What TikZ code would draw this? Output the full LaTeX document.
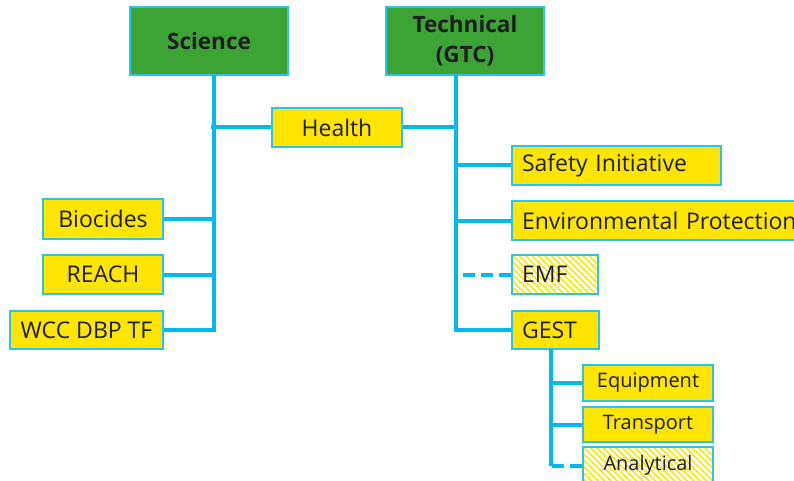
\documentclass[tikz,border=0pt]{standalone}
\usepackage{fontspec}
\setmainfont{Open Sans}
\usetikzlibrary{patterns.meta}
\definecolor{grn}{RGB}{61,163,53}
\definecolor{ylw}{RGB}{255,229,0}
\definecolor{cyn}{RGB}{0,186,235}
\definecolor{bord}{RGB}{40,195,240}
\definecolor{txt}{RGB}{30,30,30}
\begin{document}
\begin{tikzpicture}[x=1pt,y=-1pt,
  box/.style={draw=bord, line width=1.5pt, inner sep=0pt, text=txt, font=\fontsize{23}{26}\selectfont},
  gbox/.style={box, fill=grn, font=\bfseries\fontsize{22.5}{30}\selectfont, align=center},
  ybox/.style={box, fill=ylw},
  hbox/.style={box, pattern={Lines[angle=-45,distance=4.5pt,line width=1.6pt]}, pattern color=ylw},
  lbox/.style={align=left, inner xsep=10pt},
  sbox/.style={font=\fontsize{20}{24}\selectfont},
  conn/.style={draw=cyn, line width=4pt},
  dconn/.style={conn, dash pattern=on 12pt off 6pt}]
\useasboundingbox (0,0) rectangle (794,481);
% top boxes
\node[gbox, minimum width=158pt, minimum height=68pt] (sci) at (209,41) {Science};
\node[gbox, minimum width=158pt, minimum height=68pt] (tech) at (465,41) {Technical\\(GTC)};
\coordinate (strunk) at (214,75);
\coordinate (ttrunk) at (456,75);
% left branch
\node[ybox, minimum width=130pt, minimum height=39pt] (health) at (337,127.5) {Health};
\node[ybox, minimum width=120pt, minimum height=40pt] (bio) at (103,219) {Biocides};
\node[ybox, minimum width=120pt, minimum height=39pt] (reach) at (103,274.5) {REACH};
\node[ybox, minimum width=153pt, minimum height=38pt] (wcc) at (86.5,330) {WCC DBP TF};
% right branch
\node[ybox, lbox, text width=189pt, minimum height=39pt] (safety) at (616.5,165.5) {Safety Initiative};
\node[ybox, lbox, text width=290pt, minimum height=39pt] (env) at (667,220.5) {Environmental Protection};
\node[hbox, lbox, text width=66pt, minimum height=39pt] (emf) at (555,274.5) {EMF};
\node[ybox, lbox, text width=67pt, minimum height=38pt] (gest) at (555.5,330) {GEST};
% GEST children
\node[ybox, sbox, minimum width=130pt, minimum height=36pt] (equip) at (648,383) {Equipment};
\node[ybox, sbox, minimum width=130pt, minimum height=35pt] (trans) at (648,424.5) {Transport};
\node[hbox, sbox, minimum width=130pt, minimum height=37pt] (anal) at (648,465.5) {Analytical};
\coordinate (gtrunk) at (551,349);
% connectors
\draw[conn] (strunk) -- (strunk |- wcc.east) -- (wcc.east);
\draw[conn] (bio.east) -- (bio.east -| strunk);
\draw[conn] (reach.east) -- (reach.east -| strunk);
\draw[conn] ([xshift=-3pt]strunk |- health.west) -- (health.west);
\draw[conn] (health.east) -- (health.east -| ttrunk);
\draw[conn] (ttrunk) -- (ttrunk |- gest.west) -- (gest.west);
\draw[conn] (safety.west) -- (safety.west -| ttrunk);
\draw[conn] (env.west) -- (env.west -| ttrunk);
\draw[dconn] (emf.west) -- (emf.west -| ttrunk);
\draw[conn] (gtrunk) -- (gtrunk |- anal.west);
\draw[conn] (equip.west) -- (equip.west -| gtrunk);
\draw[conn] (trans.west) -- (trans.west -| gtrunk);
\draw[dconn] (anal.west) -- (anal.west -| gtrunk);
\end{tikzpicture}
\end{document}
